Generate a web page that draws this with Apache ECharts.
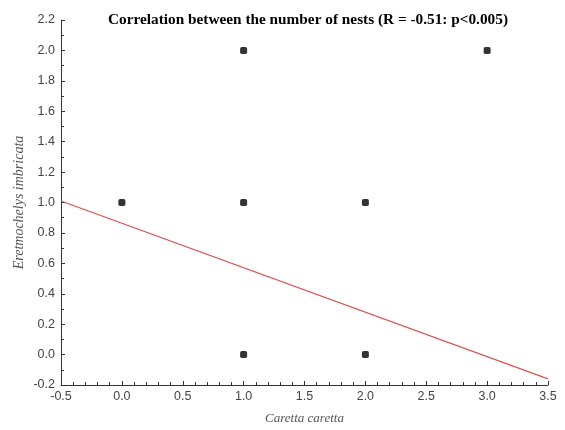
<!DOCTYPE html>
<html>
<head>
<meta charset="utf-8">
<script src="https://cdn.jsdelivr.net/npm/echarts@6/dist/echarts.min.js"></script>
<style>html,body{margin:0;padding:0;background:#fff}#c{width:565px;height:430px}</style>
</head>
<body>
<div id="c"></div>
<script>
const titleText = "Correlation between the number of nests (R = -0.51: p<0.005)";
const xName = "Caretta caretta";
const yName = "Eretmochelys imbricata";
const pointsX = [0, 1, 3, 1, 2, 1, 2];
const pointsY = [1, 2, 2, 1, 1, 0, 0];
const fitX = [-0.5, 3.5];
const fitY = [1.01, -0.16];

const chart = echarts.init(document.getElementById('c'), null, {renderer: 'canvas'});
const axisTextColor = '#444';
chart.setOption({
  animation: false,
  backgroundColor: '#fff',
  title: {
    text: titleText,
    left: 303, top: 8, textAlign: 'center',
    textStyle: {fontFamily: 'Liberation Serif', fontWeight: 'bold', fontSize: 15.3, color: '#000'}
  },
  grid: {left: 61, right: 17, top: 20, bottom: 44, containLabel: false},
  xAxis: {
    type: 'value', min: -0.5, max: 3.5, interval: 0.5,
    name: xName, nameLocation: 'middle', nameGap: 27, nameMoveOverlap: false,
    nameTextStyle: {fontFamily: 'Liberation Serif', fontStyle: 'italic', fontSize: 13, color: '#555'},
    axisLine: {show: true, onZero: false, lineStyle: {color: '#333', width: 1}},
    axisTick: {show: true, inside: true, length: 4, lineStyle: {color: '#333'}},
    minorTick: {show: true, splitNumber: 5, length: 3, lineStyle: {color: '#333'}},
    splitLine: {show: false},
    axisLabel: {margin: 5, fontFamily: 'Liberation Sans', fontSize: 12.5, color: axisTextColor,
      formatter: v => v.toFixed(1)}
  },
  yAxis: {
    type: 'value', min: -0.2, max: 2.2, interval: 0.2,
    name: yName, nameLocation: 'middle', nameGap: 35, nameRotate: 90, nameMoveOverlap: false,
    nameTextStyle: {fontFamily: 'Liberation Serif', fontStyle: 'italic', fontSize: 14, color: '#555'},
    axisLine: {show: true, onZero: false, lineStyle: {color: '#333', width: 1}},
    axisTick: {show: true, inside: true, length: 4, lineStyle: {color: '#333'}},
    minorTick: {show: true, splitNumber: 2, length: 3, lineStyle: {color: '#333'}},
    splitLine: {show: false},
    axisLabel: {margin: 6, fontFamily: 'Liberation Sans', fontSize: 12.5, color: axisTextColor,
      formatter: v => v.toFixed(1)}
  },
  series: [
    {
      type: 'line',
      data: fitX.map((x, i) => [x, fitY[i]]),
      showSymbol: false, symbol: 'none',
      lineStyle: {color: '#d9534f', width: 1.2},
      z: 2
    },
    {
      type: 'scatter',
      data: pointsX.map((x, i) => [x, pointsY[i]]),
      symbol: 'roundRect', symbolSize: 7,
      itemStyle: {color: '#000'},
      z: 3
    }
  ]
});
</script>
</body>
</html>
